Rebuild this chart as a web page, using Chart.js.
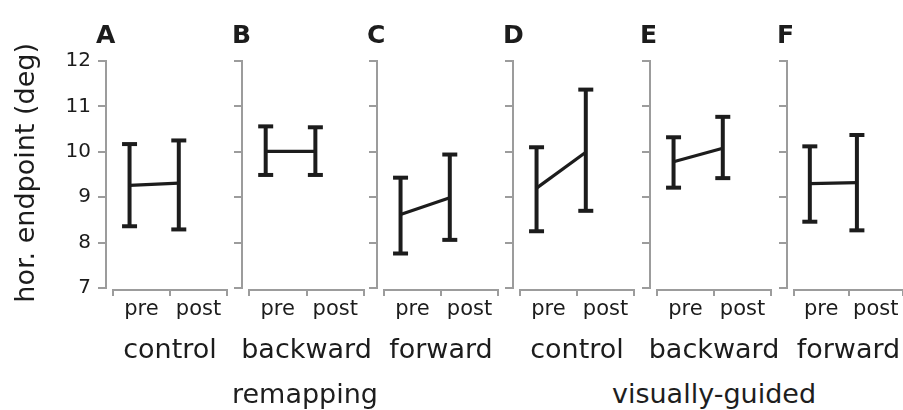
<!DOCTYPE html>
<html>
<head>
<meta charset="utf-8">
<script src="https://cdn.jsdelivr.net/npm/chart.js@4/dist/chart.umd.min.js"></script>
<style>
  body { margin: 0; background: #fff; }
  #wrap { position: relative; width: 903px; height: 410px; overflow: hidden; background: #fff; }
  #wrap canvas { position: absolute; top: 0; }
  .letter { position: absolute; top: 22px; font: bold 25px/25px 'DejaVu Sans', sans-serif; color: #1c1c1c; }
  .group { position: absolute; top: 380px; font: 27px/27px 'DejaVu Sans', sans-serif; color: #1e1e1e;
           white-space: nowrap; transform: translateX(-50%); }
</style>
</head>
<body>
<div id="wrap"></div>
<script>
// data
const panels = ['A', 'B', 'C', 'D', 'E', 'F']
const conditions = ['control', 'backward', 'forward', 'control', 'backward', 'forward']
const groups = ['remapping', 'visually-guided']
const phases = ['pre', 'post']
const yTicks = [7, 8, 9, 10, 11, 12]
const yTitle = 'hor. endpoint (deg)'

const preMean = [9.26, 10.01, 8.62, 9.20, 9.78, 9.30]
const preLow = [8.36, 9.49, 7.76, 8.25, 9.21, 8.46]
const preHigh = [10.17, 10.56, 9.43, 10.10, 10.32, 10.12]
const postMean = [9.31, 10.01, 8.99, 9.99, 10.08, 9.32]
const postLow = [8.29, 9.49, 8.06, 8.70, 9.42, 8.27]
const postHigh = [10.25, 10.54, 9.94, 11.37, 10.77, 10.37]

// layout
const axisX = [106, 242, 377, 513, 650, 787]
const plotW = [114, 115, 114, 114, 114, 109]
const groupCenter = [305, 714]
const GAP = 7
const FONT = "'DejaVu Sans', sans-serif"
const INK = '#1c1c1c'
const GRAY = '#9c9c9c'

Chart.defaults.font.family = FONT
Chart.defaults.color = INK

let wrap = document.querySelector('#wrap')

// y axis sits a little left of the x axis, and the x axis a little below
const axisGap = {
    id: 'axisGap',
    afterLayout(chart) {
        chart.scales.y.right -= GAP
        chart.scales.xc.top += 2
        chart.scales.xc.bottom += 2
    }
}

function whisker(x, lo, hi) {
    return {
        data: [{x: x, y: lo}, {x: x, y: hi}],
        borderColor: INK,
        borderWidth: 4,
        pointStyle: 'line',
        pointRadius: 7.5,
        pointBorderWidth: 4,
        pointBorderColor: INK
    }
}

panels.forEach((letter, i) => {
    let first = i === 0
    let yW = first ? 69.6 : 24
    let innerLeft = first ? 113 : yW
    let canvas = document.createElement('canvas')
    canvas.width = innerLeft + plotW[i] + 24
    canvas.height = 370
    canvas.style.left = (axisX[i] + GAP - innerLeft) + 'px'
    wrap.appendChild(canvas)

    let lab = document.createElement('div')
    lab.className = 'letter'
    lab.textContent = letter
    lab.style.left = (axisX[i] - 10) + 'px'
    wrap.appendChild(lab)

    new Chart(canvas, {
        type: 'line',
        data: {
            datasets: [
                {
                    data: [{x: 1, y: preMean[i]}, {x: 2, y: postMean[i]}],
                    borderColor: INK,
                    borderWidth: 3.2,
                    pointRadius: 0
                },
                whisker(1, preLow[i], preHigh[i]),
                whisker(2, postLow[i], postHigh[i])
            ]
        },
        options: {
            responsive: false,
            animation: false,
            events: [],
            layout: {padding: {top: 43, left: 0, right: 24, bottom: 0}},
            plugins: {
                legend: {display: false},
                tooltip: {enabled: false},
                subtitle: {
                    display: first,
                    position: 'left',
                    align: 'end',
                    text: yTitle,
                    color: INK,
                    font: {family: FONT, size: 27, weight: 'normal'},
                    padding: {top: 11, bottom: 0}
                }
            },
            scales: {
                x: {
                    type: 'linear',
                    position: 'top',
                    min: 0.664,
                    max: 2.979,
                    ticks: {display: false},
                    grid: {display: false},
                    border: {display: false},
                    afterFit: s => { s.height = 18 }
                },
                y: {
                    type: 'linear',
                    position: 'left',
                    min: yTicks[0],
                    max: yTicks[yTicks.length - 1],
                    afterBuildTicks: s => { s.ticks = yTicks.map(v => ({value: v})) },
                    ticks: {display: first, font: {size: 20}, color: INK, padding: 7},
                    grid: {drawOnChartArea: false, drawTicks: true, tickLength: 8, color: GRAY, lineWidth: 2},
                    border: {display: true, color: GRAY, width: 2},
                    afterFit: s => { s.width = yW }
                },
                xc: {
                    type: 'category',
                    labels: phases,
                    position: 'bottom',
                    weight: 0,
                    offset: true,
                    grid: {offset: true, drawOnChartArea: false, drawTicks: true, tickLength: 6, color: GRAY, lineWidth: 2},
                    border: {display: true, color: GRAY, width: 2},
                    ticks: {font: {size: 21}, color: INK, padding: 1, maxRotation: 0, autoSkip: false},
                    afterFit: s => { s.height = 46.5 }
                },
                xn: {
                    type: 'category',
                    labels: [conditions[i]],
                    position: 'bottom',
                    weight: 1,
                    offset: true,
                    grid: {display: false, drawTicks: false},
                    border: {display: false},
                    ticks: {font: {size: 27}, color: INK, padding: 0, maxRotation: 0, autoSkip: false},
                    afterFit: s => { s.height = 35.5 }
                }
            }
        },
        plugins: [axisGap]
    })
})

groups.forEach((g, k) => {
    let d = document.createElement('div')
    d.className = 'group'
    d.textContent = g
    d.style.left = groupCenter[k] + 'px'
    wrap.appendChild(d)
})
</script>
</body>
</html>
